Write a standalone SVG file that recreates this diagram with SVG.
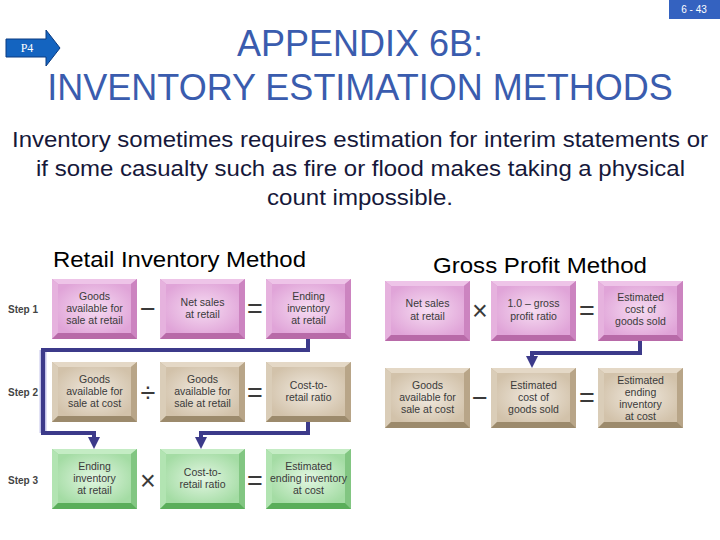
<svg xmlns="http://www.w3.org/2000/svg" width="720" height="540" viewBox="0 0 720 540">
<style>
.title{font-family:"Liberation Sans",Arial,sans-serif;font-size:36px;fill:#3a5cae;text-anchor:middle}
.body{font-family:"Liberation Sans",Arial,sans-serif;font-size:22px;fill:#16183a}
.head{font-family:"Liberation Sans",Arial,sans-serif;font-size:22px;fill:#000}
.bt{font-family:"Liberation Sans",Arial,sans-serif;font-size:10.5px;fill:#3a3a3a;text-anchor:middle}
.step{font-family:"Liberation Sans",Arial,sans-serif;font-size:10px;font-weight:bold;fill:#444}
.op{font-family:"Liberation Sans",Arial,sans-serif;font-size:27px;fill:#3a3a3a;text-anchor:middle}
.conn{fill:none;stroke:#3c3a8a;stroke-width:4;stroke-linejoin:miter}
.halo{fill:none;stroke:#c4c4ea;stroke-width:7}
</style>
<defs>
<radialGradient id="gp" cx="0.5" cy="0.5" r="0.6"><stop offset="0" stop-color="#f6dcf2"/><stop offset="1" stop-color="#e0a4d8"/></radialGradient>
<radialGradient id="gt" cx="0.5" cy="0.5" r="0.6"><stop offset="0" stop-color="#f0e9df"/><stop offset="1" stop-color="#d2c2aa"/></radialGradient>
<radialGradient id="gg" cx="0.5" cy="0.5" r="0.6"><stop offset="0" stop-color="#e2f6e2"/><stop offset="1" stop-color="#a4dca4"/></radialGradient>
<g id="bevP">
<rect width="85" height="60" fill="#d890cc"/>
<polygon points="0,0 85,0 79,5 6,5" fill="#eec4e8"/>
<polygon points="0,0 6,5 6,54 0,60" fill="#e6b2de"/>
<polygon points="85,0 85,60 79,54 79,5" fill="#cc84c0"/>
<polygon points="0,60 85,60 79,54 6,54" fill="#b86aa8"/>
<rect x="6" y="5" width="73" height="49" fill="url(#gp)"/>
</g>
<g id="bevT">
<rect width="85" height="60" fill="#c4b296"/>
<polygon points="0,0 85,0 79,5 6,5" fill="#e4d8c6"/>
<polygon points="0,0 6,5 6,54 0,60" fill="#dacdb8"/>
<polygon points="85,0 85,60 79,54 79,5" fill="#b8a588"/>
<polygon points="0,60 85,60 79,54 6,54" fill="#9c8a6c"/>
<rect x="6" y="5" width="73" height="49" fill="url(#gt)"/>
</g>
<g id="bevG">
<rect width="85" height="60" fill="#8ad08a"/>
<polygon points="0,0 85,0 79,5 6,5" fill="#c4ecc4"/>
<polygon points="0,0 6,5 6,54 0,60" fill="#b2e4b2"/>
<polygon points="85,0 85,60 79,54 79,5" fill="#82c682"/>
<polygon points="0,60 85,60 79,54 6,54" fill="#5aae5a"/>
<rect x="6" y="5" width="73" height="49" fill="url(#gg)"/>
</g>
<marker id="ah" viewBox="0 0 10 10" refX="5" refY="5" markerWidth="3" markerHeight="3" orient="auto" markerUnits="strokeWidth"><path d="M0,0 L10,5 L0,10 z" fill="#3c3a8a"/></marker>
</defs>
<rect width="720" height="540" fill="#fff"/>

<g id="pagenum">
<rect x="669" y="0" width="51" height="19" fill="#3462c0"/>
<text x="694" y="13" font-family="'Liberation Sans',Arial,sans-serif" font-size="10" fill="#fff" text-anchor="middle">6 - 43</text>
</g>
<g id="p4">
<polygon points="6,39 46,39 46,30 60,48 46,66 46,57 6,57" fill="#1464c0" stroke="#0a3a80" stroke-width="1"/>
<text x="27" y="52" font-family="'Liberation Serif','Times New Roman',serif" font-size="12" fill="#fff" text-anchor="middle">P4</text>
</g>
<text class="title" x="360" y="56">APPENDIX 6B:</text>
<text class="title" x="360" y="100">INVENTORY ESTIMATION METHODS</text>
<text class="body" x="12" y="147" textLength="696" lengthAdjust="spacingAndGlyphs">Inventory sometimes requires estimation for interim statements or</text>
<text class="body" x="36" y="176" textLength="649" lengthAdjust="spacingAndGlyphs">if some casualty such as fire or flood makes taking a physical</text>
<text class="body" x="267" y="205" textLength="186" lengthAdjust="spacingAndGlyphs">count impossible.</text>
<text class="head" x="53" y="267" textLength="253" lengthAdjust="spacingAndGlyphs">Retail Inventory Method</text>
<text class="head" x="433" y="273" textLength="214" lengthAdjust="spacingAndGlyphs">Gross Profit Method</text>

<text class="step" x="8" y="313">Step 1</text>
<text class="step" x="8" y="396">Step 2</text>
<text class="step" x="8" y="484">Step 3</text>

<g id="connectors">
<path class="halo" d="M43,350 V433"/>
<path class="conn" d="M308,339 V350 H43 V433 H94 V443" marker-end="url(#ah)"/>
<path class="conn" d="M308,421 V433 H201 V443" marker-end="url(#ah)"/>
<path class="conn" d="M640,340 V353 H532 V362" marker-end="url(#ah)"/>
</g>

<g id="r1a"><use href="#bevP" x="52" y="279"/><text class="bt" x="94.5" y="300">Goods</text><text class="bt" x="94.5" y="312">available for</text><text class="bt" x="94.5" y="324">sale at retail</text></g>
<g id="r1b"><use href="#bevP" x="160" y="279"/><text class="bt" x="202.5" y="306">Net sales</text><text class="bt" x="202.5" y="318">at retail</text></g>
<g id="r1c"><use href="#bevP" x="266" y="279"/><text class="bt" x="308.5" y="300">Ending</text><text class="bt" x="308.5" y="312">inventory</text><text class="bt" x="308.5" y="324">at retail</text></g>
<g id="r2a"><use href="#bevT" x="52" y="362"/><text class="bt" x="94.5" y="383">Goods</text><text class="bt" x="94.5" y="395">available for</text><text class="bt" x="94.5" y="407">sale at cost</text></g>
<g id="r2b"><use href="#bevT" x="160" y="362"/><text class="bt" x="202.5" y="383">Goods</text><text class="bt" x="202.5" y="395">available for</text><text class="bt" x="202.5" y="407">sale at retail</text></g>
<g id="r2c"><use href="#bevT" x="266" y="362"/><text class="bt" x="308.5" y="389">Cost-to-</text><text class="bt" x="308.5" y="401">retail ratio</text></g>
<g id="r3a"><use href="#bevG" x="52" y="449"/><text class="bt" x="94.5" y="470">Ending</text><text class="bt" x="94.5" y="482">inventory</text><text class="bt" x="94.5" y="494">at retail</text></g>
<g id="r3b"><use href="#bevG" x="160" y="449"/><text class="bt" x="202.5" y="476">Cost-to-</text><text class="bt" x="202.5" y="488">retail ratio</text></g>
<g id="r3c"><use href="#bevG" x="266" y="449"/><text class="bt" x="308.5" y="470">Estimated</text><text class="bt" x="308.5" y="482">ending inventory</text><text class="bt" x="308.5" y="494">at cost</text></g>

<text class="op" x="148" y="318">−</text>
<text class="op" x="255" y="318">=</text>
<text class="op" x="148" y="402">÷</text>
<text class="op" x="255" y="402">=</text>
<text class="op" x="148" y="490">×</text>
<text class="op" x="255" y="490">=</text>

<g id="g1a"><use href="#bevP" x="385" y="281"/><text class="bt" x="427.5" y="307">Net sales</text><text class="bt" x="427.5" y="320">at retail</text></g>
<g id="g1b"><use href="#bevP" x="491" y="281"/><text class="bt" x="533.5" y="307">1.0 – gross</text><text class="bt" x="533.5" y="320">profit ratio</text></g>
<g id="g1c"><use href="#bevP" x="598" y="281"/><text class="bt" x="640.5" y="301">Estimated</text><text class="bt" x="640.5" y="313">cost of</text><text class="bt" x="640.5" y="325">goods sold</text></g>
<g id="g2a"><use href="#bevT" x="385" y="368"/><text class="bt" x="427.5" y="389">Goods</text><text class="bt" x="427.5" y="401">available for</text><text class="bt" x="427.5" y="413">sale at cost</text></g>
<g id="g2b"><use href="#bevT" x="491" y="368"/><text class="bt" x="533.5" y="389">Estimated</text><text class="bt" x="533.5" y="401">cost of</text><text class="bt" x="533.5" y="413">goods sold</text></g>
<g id="g2c"><use href="#bevT" x="598" y="368"/><text class="bt" x="640.5" y="384">Estimated</text><text class="bt" x="640.5" y="396">ending</text><text class="bt" x="640.5" y="408">inventory</text><text class="bt" x="640.5" y="420">at cost</text></g>

<text class="op" x="480" y="320">×</text>
<text class="op" x="587" y="320">=</text>
<text class="op" x="480" y="407">−</text>
<text class="op" x="587" y="407">=</text>
</svg>
